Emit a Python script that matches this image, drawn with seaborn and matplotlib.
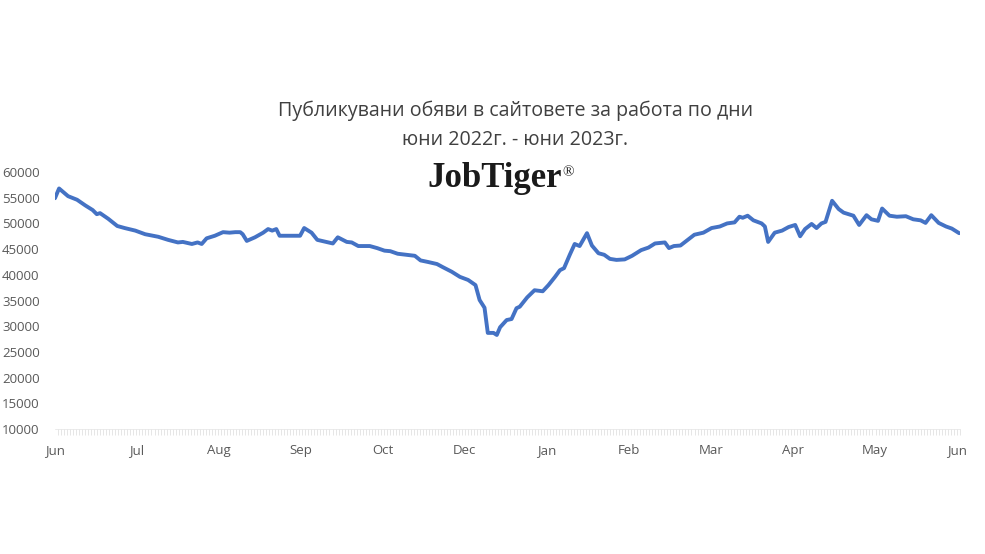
import matplotlib
matplotlib.use("Agg")
import matplotlib.pyplot as plt
import seaborn as sns
import numpy as np
import pandas as pd

# Позиция по оста x в месеци от началото (юни 2022 = 0)
months = [0.00, 0.05, 0.16, 0.27, 0.37, 0.46, 0.51, 0.55, 0.65, 0.76,
          0.85, 0.98, 1.10, 1.26, 1.38, 1.50, 1.56, 1.67, 1.74, 1.79,
          1.85, 1.95, 2.05, 2.13, 2.20, 2.26, 2.29, 2.34, 2.44, 2.54,
          2.60, 2.65, 2.70, 2.74, 2.99, 3.04, 3.13, 3.20, 3.39, 3.45,
          3.56, 3.62, 3.70, 3.84, 3.93, 4.02, 4.09, 4.18, 4.29, 4.39,
          4.46, 4.55, 4.66, 4.73, 4.84, 4.94, 5.04, 5.13, 5.18, 5.24,
          5.28, 5.35, 5.39, 5.43, 5.51, 5.57, 5.63, 5.67, 5.76, 5.85,
          5.95, 6.02, 6.10, 6.16, 6.21, 6.28, 6.34, 6.40, 6.49, 6.55,
          6.63, 6.70, 6.77, 6.85, 6.95, 7.04, 7.15, 7.24, 7.32, 7.44,
          7.49, 7.55, 7.63, 7.71, 7.80, 7.91, 8.01, 8.11, 8.20, 8.29,
          8.35, 8.39, 8.45, 8.52, 8.62, 8.66, 8.70, 8.78, 8.87, 8.95,
          9.03, 9.09, 9.15, 9.23, 9.29, 9.35, 9.40, 9.48, 9.56, 9.62,
          9.74, 9.81, 9.90, 9.96, 10.04, 10.09, 10.18, 10.27, 10.38, 10.47,
          10.56, 10.62, 10.69, 10.78, 10.87, 10.94, 11.03]

# Брой публикувани обяви
ads = [54900, 56800, 55300, 54600, 53500, 52600, 51800, 52000, 50900, 49500,
       49100, 48600, 47900, 47400, 46800, 46300, 46400, 46000, 46300, 46000,
       47100, 47600, 48300, 48200, 48300, 48300, 47900, 46600, 47300, 48200,
       48900, 48600, 48900, 47600, 47600, 49100, 48200, 46800, 46100, 47300,
       46400, 46300, 45600, 45600, 45200, 44700, 44600, 44100, 43900, 43700,
       42800, 42500, 42100, 41500, 40600, 39600, 39000, 38000, 35100, 33600,
       28700, 28700, 28300, 29800, 31200, 31400, 33500, 33800, 35600, 37000,
       36800, 38000, 39600, 40900, 41300, 43900, 46000, 45600, 48100, 45700,
       44200, 43900, 43100, 42900, 43000, 43700, 44800, 45300, 46100, 46300,
       45200, 45600, 45700, 46700, 47800, 48200, 49100, 49400, 50000, 50200,
       51300, 51100, 51500, 50600, 50000, 49400, 46400, 48200, 48600, 49300,
       49700, 47500, 48900, 49900, 49100, 50000, 50300, 54400, 52800, 52100,
       51500, 49700, 51600, 50800, 50500, 52900, 51500, 51300, 51400, 50800,
       50600, 50100, 51600, 50100, 49400, 49000, 48100]

month_labels = ["Jun", "Jul", "Aug", "Sep", "Oct", "Dec",
                "Jan", "Feb", "Mar", "Apr", "May", "Jun"]
y_ticks = [10000, 15000, 20000, 25000, 30000, 35000,
           40000, 45000, 50000, 55000, 60000]

df = pd.DataFrame({"month": months, "ads": ads})

sns.set_style("white")
plt.rcParams["font.family"] = ["Open Sans", "DejaVu Sans"]

fig = plt.figure(figsize=(9.85, 5.54), dpi=100)
ax = fig.add_axes([0.0558, 0.2256, 0.9188, 0.4639])

sns.lineplot(data=df, x="month", y="ads", ax=ax, color="#4472C4", linewidth=2.8)

ax.set_xlim(0, 11.04)
ax.set_ylim(10000, 60000)
ax.set_yticks(y_ticks)
ax.set_yticklabels([str(v) for v in y_ticks], fontsize=9.5, color="#595959")
ax.set_xticks(range(len(month_labels)))
ax.set_xticklabels(month_labels, fontsize=9.5, color="#595959")
ax.set_xticks(np.linspace(0, 11.04, 301), minor=True)
ax.tick_params(axis="y", length=0, pad=11)
ax.tick_params(axis="x", which="both", bottom=True)
ax.tick_params(axis="x", which="major", length=0, pad=10.5)
ax.tick_params(axis="x", which="minor", length=4, width=0.5, color="#dcdcdc", direction="out")
ax.set_xlabel("")
ax.set_ylabel("")

for side in ["top", "right", "left"]:
    ax.spines[side].set_visible(False)
ax.spines["bottom"].set_color("#e3e3e3")
ax.spines["bottom"].set_linewidth(0.5)

fig.text(0.523, 1 - 111 / 554, "Публикувани обяви в сайтовете за работа по дни",
         ha="center", va="center", fontsize=14.1, color="#404040")
fig.text(0.523, 1 - 140 / 554, "юни 2022г. - юни 2023г.",
         ha="center", va="center", fontsize=14.1, color="#404040")
fig.text(0.571, 1 - 179 / 554, "JobTiger", ha="right", va="center", fontsize=25,
         fontweight="bold", family="Liberation Serif", color="#1a1a1a")
fig.text(0.571, 1 - 173 / 554, "®", ha="left", va="center", fontsize=11,
         family="Liberation Serif", color="#1a1a1a")

fig.savefig("out.png", dpi=100, facecolor="white")
